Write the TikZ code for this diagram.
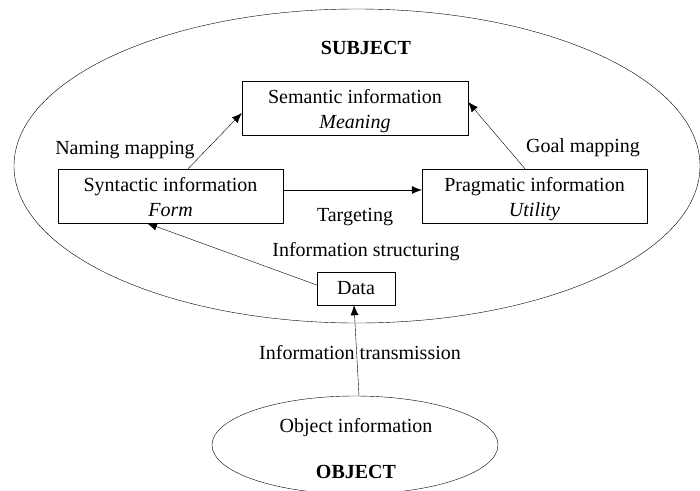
\documentclass[tikz,border=0pt]{standalone}
\usepackage{fontspec}
\setmainfont{Liberation Serif}
\usetikzlibrary{arrows.meta,shapes.geometric}
\newcommand{\topgap}{\rule{0pt}{21pt}}

\begin{document}
\begin{tikzpicture}[x=1pt,y=-1pt,inner sep=0pt,
  font=\fontsize{20}{25}\selectfont,
  infobox/.style={draw,thin,minimum width=225pt,minimum height=54pt,align=center},
  arr/.style={-{Latex[length=10pt,width=8pt]},thin}]

\useasboundingbox (0,0) rectangle (700,490);

% the two spheres
\node(subj) at (357,166) [ellipse,draw,thin,minimum width=686pt,minimum height=314pt] {};
\node(obj) at (355,445) [ellipse,draw,thin,minimum width=286pt,minimum height=98pt] {};
\node(subjt) at (366,48) {\textbf{SUBJECT}};
\node(objt) at (356,472) {\textbf{OBJECT}};
\node(objinfo) at (356,428) {Object information};

% information boxes
\node(sem) at (355,108) [infobox,minimum width=226pt] {\topgap Semantic information\\\textit{Meaning}};
\node(syn) at (170.5,196) [infobox] {\topgap Syntactic information\\\textit{Form}\vphantom{y}};
\node(prag) at (534.5,196) [infobox] {\topgap Pragmatic information\\\textit{Utility}};
\node(data) at (356,288.5) [draw,thin,minimum width=78pt,minimum height=33pt] {Data};

\draw[arr] ([xshift=17.5pt]syn.north) -- ([yshift=-5pt]sem.west);
\draw[arr] ([xshift=-9.5pt]prag.north) -- ([yshift=6pt]sem.east);
\draw[arr] ([yshift=6pt]syn.east) -- ([yshift=6pt]prag.west);
\draw[arr] ([yshift=3.5pt]data.west) -- ([xshift=-23.5pt]syn.south);
\draw[arr] ([xshift=4pt]obj.north) -- ([xshift=-2pt]data.south);

\node(t) at (125,150) {Naming mapping};
\node(t) at (583,148) {Goal mapping};
\node(t) at (355,217) {Targeting};
\node(t) at (366,252) {Information structuring};
\node(t) at (360,353) {Information transmission};

\end{tikzpicture}
\end{document}
